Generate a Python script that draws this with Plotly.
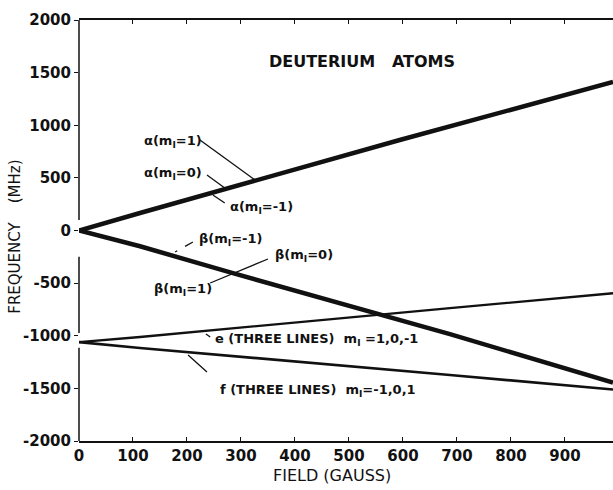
import plotly.graph_objects as go

# ---- data ----
field_alpha = [0, 113, 594, 989]
freq_alpha = [0, 166, 860, 1411]

field_beta = [0, 113, 285, 563, 687, 989]
freq_beta = [0, -150, -405, -800, -985, -1445]

field_e = [0, 113, 687, 989]
freq_e = [-1060, -1012, -738, -596]

field_f = [0, 113, 687, 989]
freq_f = [-1060, -1116, -1373, -1511]

x_ticks = [0, 100, 200, 300, 400, 500, 600, 700, 800, 900]
y_ticks = [-2000, -1500, -1000, -500, 0, 500, 1000, 1500, 2000]

labels_text = [
    "α(m<sub>I</sub>=1)",
    "α(m<sub>I</sub>=0)",
    "α(m<sub>I</sub>=-1)",
    "β(m<sub>I</sub>=-1)",
    "β(m<sub>I</sub>=0)",
    "β(m<sub>I</sub>=1)",
    "e (THREE LINES)  m<sub>I</sub> =1,0,-1",
    "f (THREE LINES)  m<sub>I</sub>=-1,0,1",
]
labels_x = [116, 116, 276, 218, 359, 135, 248, 257]
labels_y = [850, 546, 214, -90, -233, -556, -1040, -1520]

leader_x0 = [224, 237, 248, 211, 350, 235, 202]
leader_x1 = [326, 270, 270, 178, 243, 243, 237]
leader_y0 = [860, 527, 337, -109, -271, -983, -1183]
leader_y1 = [480, 404, 261, -204, -499, -1012, -1344]
leader_dash = ["solid", "solid", "solid", "dash", "solid", "solid", "solid"]

FONT = "DejaVu Sans"
INK = "#111111"

fig = go.Figure()

series = [
    (field_alpha, freq_alpha, 4.5),
    (field_beta, freq_beta, 4.5),
    (field_e, freq_e, 2.3),
    (field_f, freq_f, 2.6),
]
for fx, fy, w in series:
    fig.add_trace(go.Scatter(x=fx, y=fy, mode="lines",
                             line=dict(color=INK, width=w),
                             showlegend=False, hoverinfo="skip"))

shapes = []
for x0, x1, y0, y1, d in zip(leader_x0, leader_x1, leader_y0, leader_y1, leader_dash):
    shapes.append(dict(type="line", xref="x", yref="y", x0=x0, x1=x1, y0=y0, y1=y1,
                       line=dict(color=INK, width=1.3, dash=d)))

# left axis line (broken as in the scan)
for a, b in [(2000, 100), (-250, -975), (-1115, -2000)]:
    shapes.append(dict(type="line", xref="paper", yref="y", x0=0, x1=0, y0=a, y1=b,
                       line=dict(color=INK, width=1.5)))

annotations = []
for t, x, y in zip(labels_text, labels_x, labels_y):
    annotations.append(dict(text=t, x=x, y=y, xref="x", yref="y", showarrow=False,
                            xanchor="left", yanchor="middle",
                            font=dict(family=FONT, size=13, color=INK, weight="bold")))

annotations.append(dict(text="DEUTERIUM   ATOMS", x=524, y=1601, xref="x", yref="y",
                        showarrow=False, xanchor="center", yanchor="middle",
                        font=dict(family=FONT, size=16, color=INK, weight="bold")))
annotations.append(dict(text="FIELD (GAUSS)", x=0.474, y=-0.083, xref="paper", yref="paper",
                        showarrow=False, xanchor="center", yanchor="middle",
                        font=dict(family=FONT, size=16, color=INK)))
annotations.append(dict(text="FREQUENCY    (MHz)", x=-0.12, y=0.485, xref="paper", yref="paper",
                        showarrow=False, xanchor="center", yanchor="middle", textangle=-90,
                        font=dict(family=FONT, size=15, color=INK)))

fig.update_layout(
    width=613, height=490,
    margin=dict(l=79, r=0, t=20, b=49, autoexpand=False),
    paper_bgcolor="white", plot_bgcolor="white",
    shapes=shapes, annotations=annotations,
    showlegend=False,
)
fig.update_xaxes(range=[0, 989], tickvals=x_ticks, ticktext=[str(v) for v in x_ticks],
                 showgrid=False, zeroline=False, showline=True, linecolor=INK, linewidth=1.5,
                 mirror="ticks", ticks="inside", ticklen=4, tickcolor=INK,
                 tickfont=dict(family=FONT, size=15, color=INK, weight="bold"),
                 automargin=False)
fig.update_yaxes(range=[-2000, 2000], tickvals=y_ticks, ticktext=[str(v) for v in y_ticks],
                 showgrid=False, zeroline=False, showline=False,
                 ticks="outside", ticklen=4, tickcolor=INK,
                 tickfont=dict(family=FONT, size=15, color=INK, weight="bold"),
                 automargin=False)

fig.write_html("out.html")
